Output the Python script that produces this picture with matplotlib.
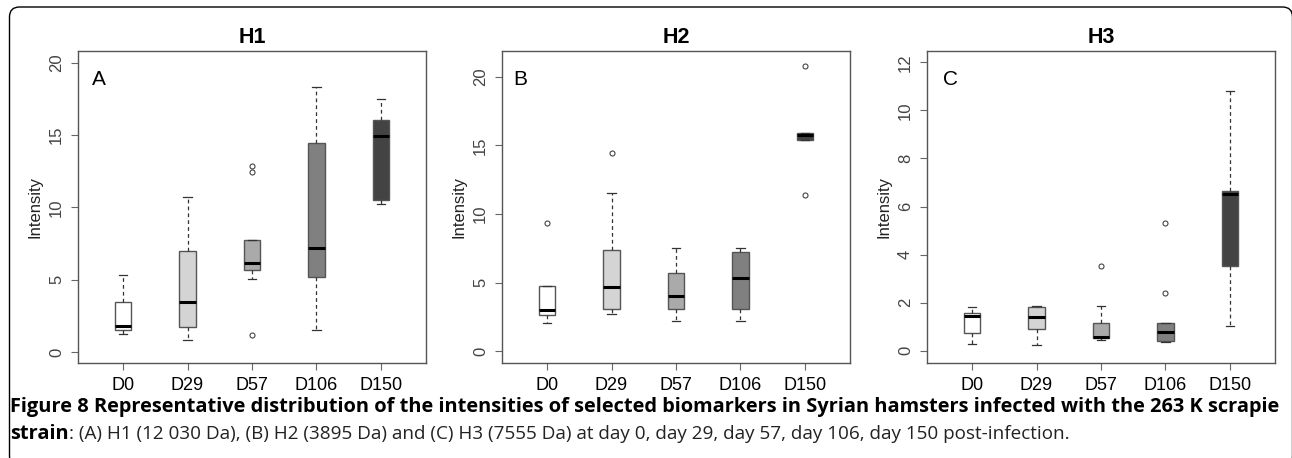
import matplotlib.pyplot as plt
import matplotlib.transforms as mtransforms
from matplotlib.patches import FancyBboxPatch

plt.rcParams['font.family'] = ['Liberation Sans', 'DejaVu Sans']

days = ['D0', 'D29', 'D57', 'D106', 'D150']
box_colors = ['#ffffff', '#d4d4d4', '#aaaaaa', '#808080', '#434343']

# H1 (12 030 Da)
h1_whislo = [1.23, 0.86, 5.02, 1.55, 10.24]
h1_q1 = [1.53, 1.71, 5.69, 5.18, 10.50]
h1_med = [1.80, 3.45, 6.15, 7.17, 14.94]
h1_q3 = [3.47, 7.00, 7.72, 14.47, 16.02]
h1_whishi = [5.29, 10.70, 7.72, 18.34, 17.50]
h1_fliers = [[], [], [12.83, 12.42, 1.16], [], []]

# H2 (3895 Da)
h2_whislo = [2.06, 2.74, 2.23, 2.23, 15.37]
h2_q1 = [2.62, 3.08, 3.10, 3.10, 15.37]
h2_med = [3.03, 4.68, 4.00, 5.31, 15.78]
h2_q3 = [4.78, 7.39, 5.72, 7.20, 15.88]
h2_whishi = [4.78, 11.54, 7.52, 7.56, 15.88]
h2_fliers = [[9.38], [14.45], [], [], [20.75, 11.37]]

# H3 (7555 Da)
h3_whislo = [0.30, 0.25, 0.46, 0.35, 1.03]
h3_q1 = [0.75, 0.89, 0.54, 0.39, 3.53]
h3_med = [1.43, 1.39, 0.57, 0.80, 6.51]
h3_q3 = [1.55, 1.82, 1.15, 1.15, 6.66]
h3_whishi = [1.82, 1.87, 1.86, 1.15, 10.82]
h3_fliers = [[], [], [3.51], [5.32, 2.42], []]

W, H = 1292, 458
fig = plt.figure(figsize=(W / 100, H / 100), dpi=100)


def panel(left, title, letter, letter_x, lo, q1, med, q3, hi, fl, ylim, yticks):
    ax = fig.add_axes([left / W, (H - 363) / H, 348 / W, 312 / H])
    stats = []
    for i in range(len(days)):
        stats.append(dict(label=days[i], whislo=lo[i], q1=q1[i], med=med[i],
                          q3=q3[i], whishi=hi[i], fliers=fl[i]))
    bp = ax.bxp(stats, positions=range(1, 6), widths=0.26, capwidths=0.13,
                patch_artist=True,
                boxprops=dict(edgecolor='#555555', linewidth=1.0),
                medianprops=dict(color='black', linewidth=2.2),
                whiskerprops=dict(color='#333333', linewidth=0.9,
                                  linestyle=(0, (3, 2.5))),
                capprops=dict(color='#333333', linewidth=0.9),
                flierprops=dict(marker='o', markersize=3.6,
                                markerfacecolor='none',
                                markeredgecolor='#444444',
                                markeredgewidth=0.8))
    for patch, c in zip(bp['boxes'], box_colors):
        patch.set_facecolor(c)
    ax.set_xlim(0.3, 5.7)
    ax.set_ylim(*ylim)
    ax.set_yticks(yticks)
    ax.set_yticklabels([str(t) for t in yticks], rotation=90, va='center',
                       fontsize=12, color='#444444')
    ax.tick_params(axis='x', labelsize=13, length=5, pad=5, color='#666666')
    ax.tick_params(axis='y', length=5, pad=5, color='#666666')
    for s in ax.spines.values():
        s.set_color('#555555')
        s.set_linewidth(1.0)
    ax.set_ylabel('Intensity', fontsize=12, color='#222222', labelpad=5)
    ax.set_title(title, fontsize=15.5, fontweight='bold', pad=6)
    ax.text(letter_x, 0.891, letter, transform=ax.transAxes, fontsize=15,
            va='baseline')
    return ax


panel(78, 'H1', 'A', 0.04, h1_whislo, h1_q1, h1_med, h1_q3, h1_whishi,
      h1_fliers, (-0.76, 20.8), [0, 5, 10, 15, 20])
panel(502, 'H2', 'B', 0.033, h2_whislo, h2_q1, h2_med, h2_q3, h2_whishi,
      h2_fliers, (-0.85, 21.87), [0, 5, 10, 15, 20])
panel(927, 'H3', 'C', 0.045, h3_whislo, h3_q1, h3_med, h3_q3, h3_whishi,
      h3_fliers, (-0.51, 12.47), [0, 2, 4, 6, 8, 10, 12])

# rounded frame round the figure
frame = FancyBboxPatch((9.5, -8), 1283, H - 7 + 8,
                       boxstyle='round,pad=0,rounding_size=10',
                       transform=mtransforms.IdentityTransform(),
                       facecolor='none', edgecolor='black', linewidth=1.0)
fig.patches.append(frame)

cap_font = ['Open Sans', 'DejaVu Sans']
cap1 = ('Figure 8 Representative distribution of the intensities of selected '
        'biomarkers in Syrian hamsters infected with the 263 K scrapie')
fig.text(10 / W, (H - 412) / H, cap1, fontsize=14.4, fontweight='bold',
         family=cap_font, va='baseline')
t = fig.text(10 / W, (H - 439) / H, 'strain', fontsize=14.4, fontweight='bold',
             family=cap_font, va='baseline')
fig.canvas.draw()
bb = t.get_window_extent()
cap2 = (': (A) H1 (12 030 Da), (B) H2 (3895 Da) and (C) H3 (7555 Da) at day 0, '
        'day 29, day 57, day 106, day 150 post-infection.')
fig.text(bb.x1 / W, (H - 439) / H, cap2, fontsize=13.6,
         family=cap_font, va='baseline', color='#222222')

fig.savefig('out.png', dpi=100)
